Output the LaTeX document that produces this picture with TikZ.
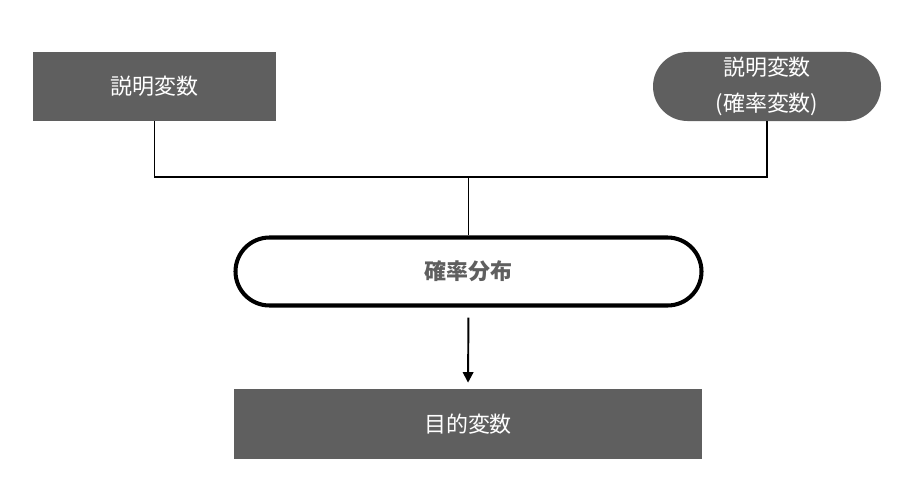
\documentclass[tikz,border=0pt]{standalone}
\usepackage{fontspec}
\setmainfont{Noto Sans CJK JP}
\usetikzlibrary{arrows.meta}
\definecolor{boxgray}{HTML}{5F5F5F}

\begin{document}
\begin{tikzpicture}[
  varbox/.style={fill=boxgray, text=white, inner sep=0pt, font=\fontsize{12.5}{20.5}\selectfont, align=center},
  distbox/.style={draw=black, line width=2.3pt, fill=white, rounded corners=0.68cm, inner sep=0pt, text=boxgray, font=\fontsize{12.5}{20.5}\selectfont\bfseries},
  link/.style={line width=1.1pt}
]
\useasboundingbox (0,0) rectangle (18.32,-9.7);
\node[varbox, minimum width=4.86cm, minimum height=1.38cm] (expl) at (3.09, -1.73) {説明変数};
\node[varbox, minimum width=4.56cm, minimum height=1.38cm, rounded corners=0.69cm] (explrand) at (15.34, -1.73) {説明変数\\(確率変数)};
\node[distbox, minimum width=9.32cm, minimum height=1.36cm] (dist) at (9.37, -5.43) {確率分布};
\node[varbox, minimum width=9.36cm, minimum height=1.4cm] (target) at (9.36, -8.48) {目的変数};
\coordinate (join) at (9.37, -3.54);
\draw[link] (expl.south) |- (join) -| (explrand.south);
\draw[link] (join) -- (dist.north);
\draw[link, -{Triangle[width=6pt, length=6pt]}, shorten <=0.2cm, shorten >=0.12cm] (dist.south) -- (target.north);
\end{tikzpicture}
\end{document}
